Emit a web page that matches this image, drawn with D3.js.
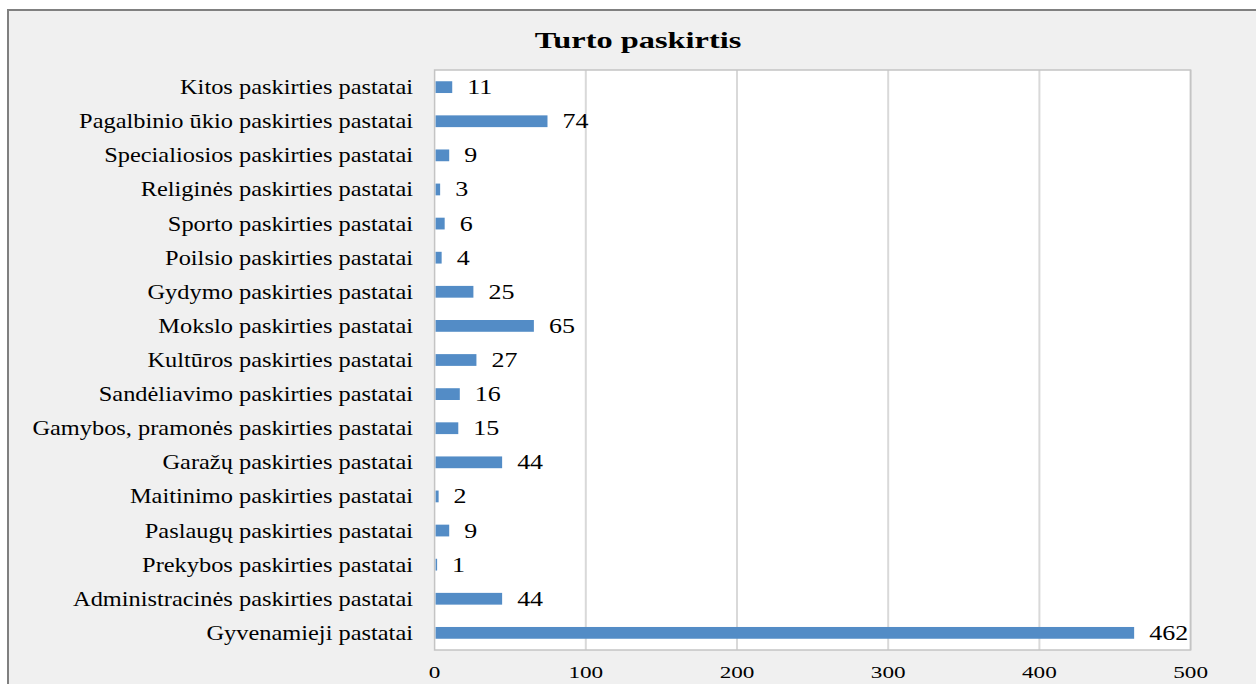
<!DOCTYPE html>
<html><head><meta charset="utf-8">
<script src="https://cdn.jsdelivr.net/npm/d3@7"></script>
<style>html,body{margin:0;padding:0;background:#fff;}svg{display:block;}</style>
</head><body>
<script>
const categories = [
  "Kitos paskirties pastatai",
  "Pagalbinio ūkio paskirties pastatai",
  "Specialiosios paskirties pastatai",
  "Religinės paskirties pastatai",
  "Sporto paskirties pastatai",
  "Poilsio paskirties pastatai",
  "Gydymo paskirties pastatai",
  "Mokslo paskirties pastatai",
  "Kultūros paskirties pastatai",
  "Sandėliavimo paskirties pastatai",
  "Gamybos, pramonės paskirties pastatai",
  "Garažų paskirties pastatai",
  "Maitinimo paskirties pastatai",
  "Paslaugų paskirties pastatai",
  "Prekybos paskirties pastatai",
  "Administracinės paskirties pastatai",
  "Gyvenamieji pastatai"
];
const values = [11, 74, 9, 3, 6, 4, 25, 65, 27, 16, 15, 44, 2, 9, 1, 44, 462];
const xTicks = [0, 100, 200, 300, 400, 500];
const title = "Turto paskirtis";

(function () {
const W = 1256, H = 684;
const pLeft = 434.6, pRight = 1190.6, pTop = 70, pBottom = 650;
const serif = "'Liberation Serif','Times New Roman',serif";

const svg = d3.select("body").append("svg").attr("width", W).attr("height", H);

// outer frame
svg.append("rect").attr("x", 8).attr("y", 10).attr("width", W + 20).attr("height", H + 20)
  .attr("fill", "#f0f0f0").attr("stroke", "#808080").attr("stroke-width", 2);

const x = d3.scaleLinear().domain([0, 500]).range([pLeft, pRight]);
const y = d3.scaleBand().domain(categories).range([pTop, pBottom]).paddingInner(0.655).paddingOuter(0.33);

// plot area
svg.append("rect").attr("x", pLeft).attr("y", pTop).attr("width", pRight - pLeft).attr("height", pBottom - pTop)
  .attr("fill", "#ffffff");

// gridlines
svg.append("g").selectAll("line").data(xTicks.slice(1)).join("line")
  .attr("x1", d => x(d)).attr("x2", d => x(d)).attr("y1", pTop).attr("y2", pBottom)
  .attr("stroke", "#d9d9d9").attr("stroke-width", 2);

// plot border
svg.append("rect").attr("x", pLeft).attr("y", pTop).attr("width", pRight - pLeft).attr("height", pBottom - pTop)
  .attr("fill", "none").attr("stroke", "#c4c4c4").attr("stroke-width", 1.5);

// bars
svg.append("g").selectAll("rect").data(values).join("rect")
  .attr("x", x(0) + 1)
  .attr("y", (d, i) => y(categories[i]))
  .attr("width", d => Math.max(0, x(d) - x(0)))
  .attr("height", y.bandwidth())
  .attr("fill", "#538cc6");

function stretchedText(parent, tx, ty, sx, txt, size, anchor, weight) {
  const g = parent.append("g").attr("transform", `translate(${tx},${ty}) scale(${sx},1)`);
  g.append("text").attr("x", 0).attr("y", 0)
    .attr("font-family", serif).attr("font-size", size)
    .attr("font-weight", weight || "normal")
    .attr("text-anchor", anchor).attr("fill", "#000").text(txt);
}

// category labels
const catG = svg.append("g");
categories.forEach((c, i) => {
  const cy = y(c) + y.bandwidth() / 2;
  stretchedText(catG, 413, cy + 7, 1.22, c, 20, "end");
});

// value labels
const valG = svg.append("g");
values.forEach((v, i) => {
  const cy = y(categories[i]) + y.bandwidth() / 2;
  stretchedText(valG, x(v) + 16, cy + 7, 1.3, String(v), 20, "start");
});

// x tick labels
const tickG = svg.append("g");
xTicks.forEach(t => {
  stretchedText(tickG, x(t), 678, 1.45, String(t), 16, "middle");
});

// title
stretchedText(svg, 638, 48, 1.35, title, 24, "middle", "bold");
})();
</script>
</body></html>
